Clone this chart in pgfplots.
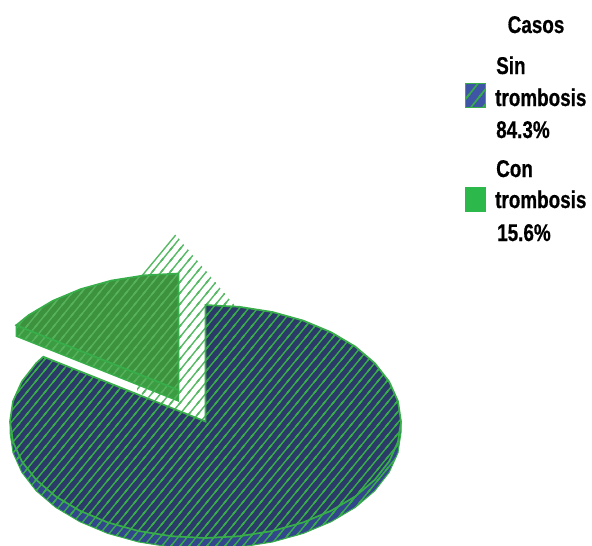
\documentclass[border=0pt]{standalone}
\usepackage{fontspec}
\setmainfont{Liberation Sans}[FakeStretch=0.78,BoldFeatures={FakeBold=0.6}]
\usepackage{pgfplots}
\pgfplotsset{compat=1.18}
\usepackage{pgfplotstable}
\usetikzlibrary{patterns}

\definecolor{navy}{HTML}{2B3A68}
\definecolor{rim}{HTML}{33478C}
\definecolor{edge}{HTML}{38AE4A}
\definecolor{slicefill}{HTML}{3D923D}
\definecolor{slicerim}{HTML}{3C9C42}
\definecolor{slicehatch}{HTML}{56B25C}
\definecolor{swatchblue}{HTML}{3F55A5}
\definecolor{swatchgreen}{HTML}{2DB84B}

% whole number tiles, so the lines stay clean when rasterised
\pgfdeclarepatternformonly{hatchlines}{\pgfqpoint{-1pt}{-1pt}}{\pgfqpoint{10pt}{12pt}}{\pgfqpoint{9pt}{11pt}}{
  \pgfsetlinewidth{1.4pt}
  \pgfpathmoveto{\pgfqpoint{-3pt}{-3.667pt}}\pgfpathlineto{\pgfqpoint{12pt}{14.667pt}}
  \pgfpathmoveto{\pgfqpoint{-3pt}{7.333pt}}\pgfpathlineto{\pgfqpoint{3pt}{14.667pt}}
  \pgfpathmoveto{\pgfqpoint{6pt}{-3.667pt}}\pgfpathlineto{\pgfqpoint{12pt}{3.667pt}}
  \pgfusepath{stroke}
}
\pgfdeclarepatternformonly{widehatch}{\pgfqpoint{-1pt}{-1pt}}{\pgfqpoint{13pt}{16pt}}{\pgfqpoint{12pt}{15pt}}{
  \pgfsetlinewidth{1.7pt}
  \pgfpathmoveto{\pgfqpoint{-3pt}{-3.75pt}}\pgfpathlineto{\pgfqpoint{15pt}{18.75pt}}
  \pgfpathmoveto{\pgfqpoint{-3pt}{11.25pt}}\pgfpathlineto{\pgfqpoint{3pt}{18.75pt}}
  \pgfpathmoveto{\pgfqpoint{9pt}{-3.75pt}}\pgfpathlineto{\pgfqpoint{15pt}{3.75pt}}
  \pgfusepath{stroke}
}

\pgfplotstableread{
x y
175.7 235
240 312
205.5 425
137 392
137 281
}\ghost

\pgfplotstableread{
x y
401.0 421.5
401.0 432.5
398.0 452.7
389.2 472.3
374.8 490.8
355.3 507.4
331.2 521.7
303.3 533.4
272.4 542.0
239.4 547.2
205.5 549.0
171.6 547.2
138.6 542.0
107.7 533.4
79.8 521.7
55.7 507.4
36.2 490.8
21.8 472.3
13.0 452.7
10.0 432.5
10.0 421.5
}\mainrim

\pgfplotstableread{
x y
205.5 421.5
205.5 305.0
239.4 306.8
272.4 312.0
303.3 320.6
331.2 332.3
355.3 346.6
374.8 363.2
389.2 381.7
398.0 401.3
401.0 421.5
398.0 441.7
389.2 461.3
374.8 479.8
355.3 496.4
331.2 510.7
303.3 522.4
272.4 531.0
239.4 536.2
205.5 538.0
171.6 536.2
138.6 531.0
107.7 522.4
79.8 510.7
55.7 496.4
36.2 479.8
21.8 461.3
13.0 441.7
10.0 421.5
13.0 401.3
21.8 381.7
36.2 363.2
43.3 356.7
}\mainface

\pgfplotstableread{
x y
16.3 325.2
16.3 336.2
178.5 401.0
178.5 390.0
}\slicerimdata

\pgfplotstableread{
x y
178.5 390.0
178.5 273.5
144.6 275.3
111.6 280.5
80.7 289.1
52.8 300.8
28.7 315.1
16.3 325.2
}\sliceface

\pgfplotstableread{
x y
465.5 83.5
485.5 83.5
485.5 107.5
465.5 107.5
}\swatchA

\pgfplotstableread{
x y
465 187
486 187
486 212
465 212
}\swatchB

\tikzset{
  hatch/.style={pattern=hatchlines},
  wide hatch/.style={pattern=widehatch},
  leg/.style={anchor=base west,inner sep=0pt,font=\fontsize{24.2}{24.2}\selectfont\bfseries},
}

\begin{document}
\begin{tikzpicture}
\useasboundingbox (0,0) rectangle (592pt,546pt);
\begin{axis}[
  hide axis,
  scale only axis,
  at={(0,0)},anchor=south west,
  width=592pt,height=546pt,
  xmin=0,xmax=592,ymin=0,ymax=546,
  y dir=reverse,
  clip=true,
  no markers,
]
% background hatch showing through the gap
\addplot[draw=none,hatch,pattern color=edge!85!white] table {\ghost} -- cycle;
\addplot[edge!85!white,line width=1.4pt] coordinates {(175.7,235) (141,277)};

% main slice
\addplot[draw=none,fill=rim] table {\mainrim} -- cycle;
\addplot[draw=edge,line width=1pt,hatch,pattern color=edge] table {\mainrim} -- cycle;
\addplot[draw=none,fill=navy] table {\mainface} -- cycle;
\addplot[draw=edge,line width=1.7pt,line join=miter,hatch,pattern color=edge] table {\mainface} -- cycle;

% pulled out slice
\addplot[draw=none,fill=slicerim] table {\slicerimdata} -- cycle;
\addplot[draw=edge,line width=1.4pt,hatch,pattern color=slicehatch] table {\slicerimdata} -- cycle;
\addplot[draw=none,fill=slicefill] table {\sliceface} -- cycle;
\addplot[draw=edge,line width=1.7pt,line join=miter,hatch,pattern color=slicehatch] table {\sliceface} -- cycle;

% legend
\addplot[draw=none,fill=swatchblue] table {\swatchA} -- cycle;
\addplot[draw=edge,line width=1pt,wide hatch,pattern color=edge] table {\swatchA} -- cycle;
\addplot[draw=none,fill=swatchgreen] table {\swatchB} -- cycle;

\node[leg] at (axis cs:507.5,33) {Casos};
\node[leg] at (axis cs:496,74) {Sin};
\node[leg] at (axis cs:495,106) {trombosis};
\node[leg] at (axis cs:496,138) {84.3\%};
\node[leg] at (axis cs:496,177) {Con};
\node[leg] at (axis cs:495,208) {trombosis};
\node[leg] at (axis cs:497,241) {15.6\%};
\end{axis}
\end{tikzpicture}
\end{document}
